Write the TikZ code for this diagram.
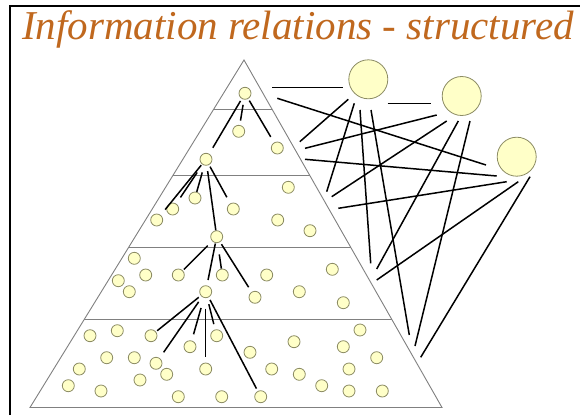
\documentclass[tikz,border=0pt]{standalone}
\usepackage{fontspec}
\setmainfont{Liberation Serif}
\usetikzlibrary{calc}
\definecolor{titlec}{RGB}{192,104,30}
\definecolor{nfill}{RGB}{255,255,200}
\definecolor{ndraw}{RGB}{140,140,100}
\definecolor{pyr}{RGB}{128,128,128}
\begin{document}
\begin{tikzpicture}[x=1pt,y=-1pt,
 dot/.style={circle,draw=ndraw,fill=nfill,line width=0.8pt,minimum size=12pt,inner sep=0pt},
 big/.style={circle,draw=ndraw,fill=nfill,line width=0.8pt,minimum size=39pt,inner sep=0pt},
 lk/.style 2 args={draw=black,line width=1.5pt,shorten <=#1pt,shorten >=#2pt},
 rel/.style={draw=black,line width=1.5pt},
 pyrline/.style={draw=pyr,line width=0.9pt}]
\useasboundingbox (0,0) rectangle (580,415);
\fill[white] (0,0) rectangle (580,415);
\draw[line width=1.5pt] (10,415) -- (10,6) -- (580,6);
\node[anchor=base west,text=titlec,font=\fontsize{41}{41}\selectfont\itshape,inner sep=0pt] (title) at (22,39) {Information relations - structured};
% pyramid
\coordinate (T) at (244,60);
\coordinate (BL) at (30,407.5);
\coordinate (BR) at (442,407.5);
\draw[pyrline] (T) -- (BL) -- (BR) -- cycle;
\foreach \f in {0.142,0.333,0.540,0.746}
  \draw[pyrline] ($(T)!\f!(BL)$) -- ($(T)!\f!(BR)$);
% level 1 and 2
\node[dot] (a) at (245,93.3) {};
\node[dot] (b1) at (238.7,131.3) {};
\node[dot] (b2) at (277.3,148) {};
\node[dot] (B) at (206,159.3) {};
% level 3
\node[dot] (c1) at (288.3,187.3) {};
\node[dot] (c2) at (195,198) {};
\node[dot] (c3) at (172.7,209) {};
\node[dot] (c4) at (156.7,220) {};
\node[dot] (c5) at (233.3,209) {};
\node[dot] (c6) at (277.7,220) {};
\node[dot] (c7) at (310,230.7) {};
\node[dot] (C) at (216.7,236.7) {};
% level 4
\node[dot] (d1) at (134.3,258.3) {};
\node[dot] (d2) at (118.3,280.7) {};
\node[dot] (d3) at (129.3,291.7) {};
\node[dot] (d4) at (145.7,275) {};
\node[dot] (d5) at (178.3,275) {};
\node[dot] (d6) at (222.3,275) {};
\node[dot] (d7) at (266.7,275) {};
\node[dot] (d8) at (332.3,269.3) {};
\node[dot] (D) at (205.7,291.7) {};
\node[dot] (d9) at (255,297.3) {};
\node[dot] (d10) at (299.3,291.7) {};
\node[dot] (d11) at (343.3,302.7) {};
% level 5
\node[dot] (e1) at (90,335.7) {};
\node[dot] (e2) at (117.3,330.7) {};
\node[dot] (e3) at (151,335.7) {};
\node[dot] (e4) at (190,346.7) {};
\node[dot] (e5) at (216.7,335.7) {};
\node[dot] (e6) at (106.7,357.7) {};
\node[dot] (e7) at (134.3,357.7) {};
\node[dot] (e8) at (156,363.3) {};
\node[dot] (e9) at (205.7,369) {};
\node[dot] (e10) at (79.3,369) {};
\node[dot] (e11) at (166.7,374.3) {};
\node[dot] (e12) at (140,380) {};
\node[dot] (e13) at (68.3,385.7) {};
\node[dot] (e14) at (101,391) {};
\node[dot] (e15) at (178.3,396.7) {};
\node[dot] (e16) at (221.7,396.7) {};
\node[dot] (e17) at (250,352.3) {};
\node[dot] (e18) at (294,341.7) {};
\node[dot] (e19) at (343.3,346.7) {};
\node[dot] (e20) at (360,330) {};
\node[dot] (e21) at (376.7,357.7) {};
\node[dot] (e22) at (271.7,369) {};
\node[dot] (e23) at (299.3,374.3) {};
\node[dot] (e24) at (349,369) {};
\node[dot] (e25) at (321.7,385.7) {};
\node[dot] (e26) at (349,391) {};
\node[dot] (e27) at (382.3,391) {};
\node[dot] (e28) at (260.7,396.7) {};
% hierarchy links
\draw[lk={5.3}{4.5}] (a) -- (b1);
\draw[lk={2.1}{6.5}] (a) -- (b2);
\draw[lk={2.5}{7}] (a) -- (B);
\draw[lk={1.1}{7}] (B) -- (c4);
\draw[lk={9.5}{7.5}] (B) -- (c3);
\draw[lk={7.2}{0}] (B) -- (c2);
\draw[lk={5.5}{0}] (B) -- (C);
\draw[lk={2}{7}] (B) -- (c5);
\draw[lk={6.3}{1.5}] (C) -- (d5);
\draw[lk={0.5}{5.5}] (C) -- (D);
\draw[lk={11.5}{0}] (C) -- (d6);
\draw[lk={2.5}{5.5}] (C) -- (d9);
\draw[lk={2.5}{1.5}] (D) -- (e3);
\draw[lk={6}{7}] (D) -- (e8);
\draw[lk={10.5}{6.5}] (D) -- (e4);
\draw[lk={10.5}{5.5}] (D) -- (e9);
\draw[lk={6.5}{5.5}] (D) -- (e5);
\draw[lk={2.9}{2.8}] (D) -- (e28);
% external circles
\node[big] (g1) at (368.3,79.3) {};
\node[big] (g2) at (461.7,96) {};
\node[big] (g3) at (516.7,156.7) {};
% relation line end points
\coordinate (r1s) at (272,87.3);   \coordinate (r1e) at (342.7,87.3);
\coordinate (r2s) at (387.7,103.3); \coordinate (r2e) at (431,103.3);
\coordinate (r3s) at (348.3,99.3); \coordinate (r3e) at (299.8,141.7);
\coordinate (r4s) at (354.3,103.3); \coordinate (r4e) at (326.7,191.7);
\coordinate (r5s) at (360,110);    \coordinate (r5e) at (370.7,263.3);
\coordinate (r6s) at (371,110);    \coordinate (r6e) at (409.3,335);
\coordinate (r7s) at (436.7,115);  \coordinate (r7e) at (305,148.3);
\coordinate (r8s) at (446.7,121);  \coordinate (r8e) at (331.7,196.7);
\coordinate (r9s) at (458.3,121);  \coordinate (r9e) at (376.7,269);
\coordinate (r10s) at (470,121);   \coordinate (r10e) at (415,346);
\coordinate (r11s) at (277.3,98.3); \coordinate (r11e) at (486,165);
\coordinate (r12s) at (305,159.3); \coordinate (r12e) at (496.7,176);
\coordinate (r13s) at (506.7,181.7); \coordinate (r13e) at (338.3,208.3);
\coordinate (r14s) at (518.3,181.7); \coordinate (r14e) at (376.7,280);
\coordinate (r15s) at (530,176.7); \coordinate (r15e) at (420.7,357.3);
\foreach \i in {1,...,15}
  \draw[rel] (r\i s) -- (r\i e);
\end{tikzpicture}
\end{document}
